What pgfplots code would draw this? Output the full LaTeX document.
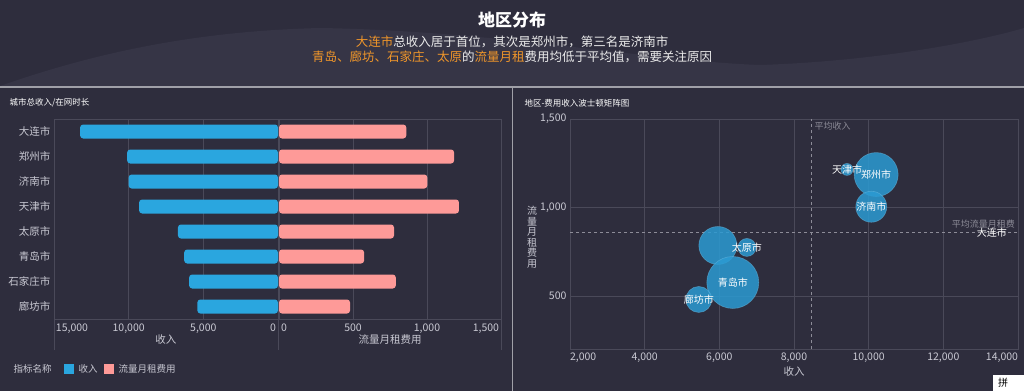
\documentclass[border=0pt]{standalone}
\usepackage{fontspec}
\setmainfont{Noto Sans CJK SC}
\usepackage{pgfplots}
\usepackage{pgfplotstable}
\pgfplotsset{compat=1.18}
\definecolor{bg}{HTML}{2E2D3D}
\definecolor{wave}{HTML}{363546}
\definecolor{gridc}{HTML}{4A4959}
\definecolor{tickc}{HTML}{C9C9D3}
\definecolor{bluebar}{HTML}{2AA6DF}
\definecolor{pinkbar}{HTML}{FE9A98}
\definecolor{bubble}{HTML}{2B9BD3}
\definecolor{orangec}{HTML}{F0962A}
\definecolor{avgc}{HTML}{8D8C98}
\definecolor{sepc}{HTML}{A0A0A8}

\pgfplotstableread{
y income fee
0 13250 860
1 10100 1183
2 10000 1002
3 9300 1216
4 6700 777
5 6280 575
6 5950 789
7 5400 480
}\bartable

\pgfplotstableread{
x y label
13300 860 大连市
10200 1186 郑州市
10070 1004 济南市
9420 1215 天津市
6740 774 太原市
6360 576 青岛市
5450 480 廊坊市
}\labeltable

\pgfplotsset{
  darkaxis/.style={
    scale only axis,
    axis line style={gridc},
    major tick length=0pt,
    tick style={draw=none},
    ticklabel style={text=tickc, font=\fontsize{10.5}{12}\selectfont},
    label style={text=tickc, font=\fontsize{10.5}{12}\selectfont},
    grid style={gridc, line width=0.6pt},
    /pgf/number format/assume math mode=true,
    /pgf/number format/fixed,
    /pgf/number format/1000 sep={,},
    scaled ticks=false,
  },
  bub/.style={only marks, mark=*, mark size=#1,
    mark options={fill=bubble, draw=bubble!70!white, line width=0.6pt, fill opacity=0.85, draw opacity=0.5}},
}

\begin{document}
\begin{tikzpicture}
% background
\fill[bg] (0pt,0pt) rectangle (1024pt,391pt);
\fill[wave] (0pt,305pt) .. controls (100pt,340pt) and (200pt,360pt) .. (320pt,363pt)
  .. controls (500pt,360pt) and (650pt,330pt) .. (760pt,326pt)
  .. controls (880pt,330pt) and (980pt,350pt) .. (1024pt,363pt)
  -- (1024pt,305pt) -- cycle;
\draw[sepc, line width=2pt] (0pt,304pt) -- (1024pt,304pt);
\draw[sepc, line width=1.2pt] (512.5pt,0pt) -- (512.5pt,303pt);

% titles
\node[text=white, font=\fontsize{17}{20}\selectfont\bfseries] at (512pt,371pt) {地区分布};
\node[text=white!92!black, font=\fontsize{12.5}{15}\selectfont] at (512pt,349pt)
  {\textcolor{orangec}{大连市}总收入居于首位，其次是郑州市，第三名是济南市};
\node[text=white!92!black, font=\fontsize{12.5}{15}\selectfont] at (512pt,334pt)
  {\textcolor{orangec}{青岛、廊坊、石家庄、太原}的\textcolor{orangec}{流量月租}费用均低于平均值，需要关注原因};

\node[text=white, font=\fontsize{8.5}{10}\selectfont, anchor=west] at (6pt,288pt) {城市总收入/在网时长};
\node[text=white, font=\fontsize{8.5}{10}\selectfont, anchor=west] at (521pt,288pt) {地区-费用收入波士顿矩阵图};

% left: income
\begin{axis}[darkaxis,
  at={(54pt,72pt)}, anchor=south west,
  width=224pt, height=200pt,
  x dir=reverse, xmin=0, xmax=15000,
  y dir=reverse, ymin=-0.5, ymax=7.5,
  xtick={0,5000,10000,15000},
  xticklabels={\llap{0\hspace{2pt}},{5,000},{10,000},\rlap{\hspace{2pt}15,000}},
  xmajorgrids,
  ytick={0,...,7},
  yticklabels={大连市,郑州市,济南市,天津市,太原市,青岛市,石家庄市,廊坊市},
  xlabel={收入},
  xlabel style={yshift=5pt},
  xticklabel style={yshift=-1pt},
  xbar, bar width=14pt,
]
\addplot[fill=bluebar, draw=none, rounded corners=3pt] table[x=income, y=y]{\bartable};
\end{axis}

% left: fee
\begin{axis}[darkaxis,
  at={(279pt,72pt)}, anchor=south west,
  width=222pt, height=200pt,
  xmin=0, xmax=1500,
  y dir=reverse, ymin=-0.5, ymax=7.5,
  xtick={0,500,1000,1500},
  xticklabels={\rlap{\hspace{2pt}0},500,{1,000},\llap{1,500\hspace{2pt}}},
  xmajorgrids,
  ytick=\empty,
  xlabel={流量月租费用},
  xlabel style={yshift=5pt},
  xticklabel style={yshift=-1pt},
  xbar, bar width=14pt,
]
\addplot[fill=pinkbar, draw=none, rounded corners=3pt] table[x=fee, y=y]{\bartable};
\end{axis}

\draw[gridc, line width=0.6pt] (54pt,41pt) -- (54pt,72pt);
\draw[gridc, line width=0.6pt] (278.5pt,41pt) -- (278.5pt,72pt);
\draw[gridc, line width=0.6pt] (501pt,41pt) -- (501pt,72pt);

% legend
\node[text=tickc, font=\fontsize{9.5}{11}\selectfont, anchor=west] at (10pt,22pt) {指标名称};
\fill[bluebar] (64pt,17pt) rectangle (74pt,27pt);
\node[text=tickc, font=\fontsize{9.5}{11}\selectfont, anchor=west] at (75pt,22pt) {收入};
\fill[pinkbar] (104pt,17pt) rectangle (114pt,27pt);
\node[text=tickc, font=\fontsize{9.5}{11}\selectfont, anchor=west] at (115pt,22pt) {流量月租费用};

% right: bubble matrix
\begin{axis}[darkaxis,
  at={(570pt,42pt)}, anchor=south west,
  width=448pt, height=230pt,
  xmin=2000, xmax=14000, ymin=200, ymax=1500,
  xtick={2000,4000,...,14000},
  xticklabels={\rlap{2,000},{4,000},{6,000},{8,000},{10,000},{12,000},\llap{14,000}},
  ytick={500,1000,1500},
  grid=major,
  xlabel={收入},
  xlabel style={yshift=2pt},
  clip=false,
]
\addplot[avgc, dashed, line width=0.7pt] coordinates {(8456,200) (8456,1500)};
\addplot[avgc, dashed, line width=0.7pt] coordinates {(2000,859) (14000,859)};
\addplot[bub=22pt] coordinates {(10200,1186)};
\addplot[bub=15.5pt] coordinates {(10070,1004)};
\addplot[bub=6pt] coordinates {(9420,1215)};
\addplot[bub=9pt] coordinates {(6740,774)};
\addplot[bub=19pt] coordinates {(5960,785)};
\addplot[bub=26pt] coordinates {(6360,576)};
\addplot[bub=13pt] coordinates {(5450,480)};
\addplot[only marks, mark=none,
  point meta=explicit symbolic,
  nodes near coords,
  nodes near coords style={anchor=center, text=white, font=\fontsize{10}{12}\selectfont, inner sep=0pt},
] table[x=x, y=y, meta=label]{\labeltable};
\node[text=avgc, font=\fontsize{9}{11}\selectfont, anchor=west] at (axis cs:8456,1460) {平均收入};
\node[text=avgc, font=\fontsize{9}{11}\selectfont, anchor=south east, inner sep=1pt] at (axis cs:13950,875) {平均流量月租费};
\end{axis}
\node[text=tickc, font=\fontsize{10}{10.5}\selectfont, align=center, inner sep=0pt] at (532pt,154pt) {流\\量\\月\\租\\费\\用};

% IME box
\fill[white] (993pt,0pt) rectangle (1024pt,16pt);
\node[text=black, font=\fontsize{10}{12}\selectfont] at (1003pt,8pt) {拼};

\pgfresetboundingbox
\path (0pt,0pt) rectangle (1024pt,391pt);
\end{tikzpicture}
\end{document}
